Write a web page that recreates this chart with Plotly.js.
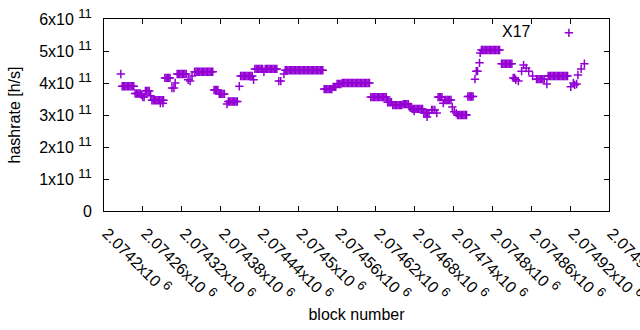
<!DOCTYPE html>
<html>
<head>
<meta charset="utf-8">
<script src="https://cdn.plot.ly/plotly-3.0.1.min.js"></script>
<style>html,body{margin:0;padding:0;background:#fff;}#chart{width:640px;height:330px;}</style>
</head>
<body>
<div id="chart"></div>
<script>
// block numbers (x) and hashrate in h/s (y)
const blocks = [
  2074226,
  2074228,2074230,2074232,2074234,2074236,2074238,2074240,2074242,2074244,2074246,
  2074248,2074250,2074252,2074254,2074256,
  2074258,2074260,2074262,
  2074264,2074266,2074268,2074270,2074272,
  2074274,2074276,2074278,2074280,2074282,2074284,2074286,2074288,2074290,2074292,2074287,2074291,
  2074294,2074296,2074298,2074300,2074302,
  2074305,2074308,2074310,
  2074313,2074315,2074317,2074319,2074321,2074323,2074325,2074327,
  2074330,2074333,2074336,
  2074340,2074342,2074344,2074346,2074348,2074350,2074352,2074354,2074356,2074358,2074360,2074362,2074364,2074366,2074368,
  2074370,2074372,2074374,2074376,
  2074378,2074380,2074382,2074384,2074386,
  2074390,2074392,2074394,2074396,2074398,2074400,2074402,2074404,2074406,
  2074409,
  2074411,2074413,2074415,2074417,2074419,2074421,2074423,2074425,2074427,2074429,2074431,
  2074433,2074435,2074437,2074439,2074441,2074443,2074445,2074447,2074449,2074451,2074453,2074455,2074457,2074459,2074461,2074463,2074465,2074467,
  2074470,2074473,2074478,
  2074480,2074482,2074484,2074486,2074488,2074490,2074492,2074494,2074496,2074498,2074500,2074502,2074504,2074506,2074508,
  2074510,2074512,2074514,2074516,2074518,2074520,2074522,2074524,2074526,2074528,2074530,2074532,2074534,2074536,2074538,
  2074540,2074542,2074544,2074546,2074548,2074550,2074552,
  2074554,2074556,2074558,
  2074560,2074562,2074564,2074566,
  2074568,2074570,2074572,2074574,2074576,2074578,2074580,2074582,2074584,2074586,2074588,
  2074590,2074592,2074594,2074596,2074598,2074600,2074602,2074604,2074606,2074608,2074610,
  2074612,2074614,2074616,2074618,2074620,2074622,2074624,2074626,2074628,2074630,2074632,2074634,2074636,
  2074638,2074640,2074642,2074644,
  2074646,2074648,2074650,2074652,2074654,2074656,2074658,2074660,
  2074662,2074664,2074666,2074668,2074670,
  2074672,2074674,
  2074676,2074678,2074680,2074682,2074684,2074686,2074688,2074690,2074692,2074679,
  2074694,2074696,2074698,2074700,2074702,2074699,
  2074706,2074708,2074711,2074714,
  2074716,2074718,2074720,2074722,
  2074724,2074726,2074728,2074730,2074732,2074734,2074736,
  2074738,2074741,2074744,
  2074746,2074748,2074750,2074752,2074754,2074756,2074758,2074760,
  2074762,2074764,2074766,2074768,2074770,
  2074773,2074775,2074777,
  2074780,2074781,
  2074783,2074785,2074787,2074789,2074791,2074793,2074795,2074797,2074799,2074801,2074803,2074805,2074807,2074809,2074811,
  2074814,2074816,2074818,2074820,2074822,2074824,2074826,2074828,2074830,
  2074832,2074834,2074836,2074840,
  2074845,2074848,2074852,2074856,2074862,2074868,
  2074870,2074872,2074874,2074876,2074878,2074880,
  2074884,
  2074886,2074888,2074890,2074892,2074894,2074896,2074898,2074900,2074902,2074904,2074906,2074908,2074910,2074912,2074914,2074916,
  2074921,2074925,2074927,2074930,2074932,2074937,2074942
];
const hashrate = [
  4.28e11,
  3.9e11,3.9e11,3.9e11,3.9e11,3.9e11,3.9e11,3.9e11,3.9e11,3.9e11,3.9e11,
  3.67e11,3.67e11,3.67e11,3.67e11,3.67e11,
  3.62e11,3.56e11,3.56e11,
  3.75e11,3.75e11,3.75e11,3.75e11,3.6e11,
  3.46e11,3.46e11,3.46e11,3.46e11,3.46e11,3.46e11,3.46e11,3.46e11,3.46e11,3.46e11,3.37e11,3.37e11,
  4.16e11,4.16e11,4.16e11,4.16e11,4.16e11,
  3.84e11,3.84e11,4.0e11,
  4.28e11,4.28e11,4.28e11,4.28e11,4.28e11,4.28e11,4.28e11,4.28e11,
  4.1e11,4.06e11,4.22e11,
  4.35e11,4.35e11,4.35e11,4.35e11,4.35e11,4.35e11,4.35e11,4.35e11,4.35e11,4.35e11,4.35e11,4.35e11,4.35e11,4.35e11,4.35e11,
  3.78e11,3.78e11,3.78e11,3.78e11,
  3.66e11,3.66e11,3.66e11,3.66e11,3.66e11,
  3.34e11,3.42e11,3.42e11,3.42e11,3.42e11,3.42e11,3.42e11,3.42e11,3.42e11,
  3.9e11,
  4.22e11,4.22e11,4.22e11,4.22e11,4.22e11,4.22e11,4.22e11,4.22e11,4.22e11,4.22e11,4.1e11,
  4.44e11,4.44e11,4.44e11,4.44e11,4.44e11,4.44e11,4.44e11,4.35e11,4.44e11,4.44e11,4.44e11,4.44e11,4.44e11,4.44e11,4.44e11,4.44e11,4.44e11,4.44e11,
  4.06e11,4.06e11,4.28e11,
  4.4e11,4.4e11,4.4e11,4.4e11,4.4e11,4.4e11,4.4e11,4.4e11,4.4e11,4.4e11,4.4e11,4.4e11,4.4e11,4.4e11,4.4e11,
  4.4e11,4.4e11,4.4e11,4.4e11,4.4e11,4.4e11,4.4e11,4.4e11,4.4e11,4.4e11,4.4e11,4.4e11,4.4e11,4.4e11,4.4e11,
  3.81e11,3.81e11,3.81e11,3.81e11,3.81e11,3.81e11,3.81e11,
  3.88e11,3.88e11,3.88e11,
  3.97e11,3.97e11,3.97e11,3.97e11,
  4.0e11,4.0e11,4.0e11,4.0e11,4.0e11,4.0e11,4.0e11,4.0e11,4.0e11,4.0e11,4.0e11,
  4.0e11,4.0e11,4.0e11,4.0e11,4.0e11,4.0e11,4.0e11,4.0e11,4.0e11,4.0e11,4.0e11,
  3.56e11,3.56e11,3.56e11,3.56e11,3.56e11,3.56e11,3.56e11,3.56e11,3.56e11,3.56e11,3.56e11,3.56e11,3.56e11,
  3.4e11,3.4e11,3.4e11,3.4e11,
  3.31e11,3.31e11,3.31e11,3.31e11,3.31e11,3.31e11,3.31e11,3.31e11,
  3.34e11,3.34e11,3.34e11,3.34e11,3.34e11,
  3.25e11,3.25e11,
  3.19e11,3.19e11,3.19e11,3.19e11,3.19e11,3.19e11,3.19e11,3.19e11,3.19e11,3.12e11,
  3.06e11,3.06e11,3.06e11,3.06e11,3.06e11,2.94e11,
  3.16e11,3.16e11,3.16e11,3.06e11,
  3.56e11,3.56e11,3.56e11,3.56e11,
  3.37e11,3.47e11,3.47e11,3.47e11,3.47e11,3.47e11,3.47e11,
  3.25e11,3.1e11,3.06e11,
  3.0e11,3.0e11,3.0e11,3.0e11,3.0e11,3.0e11,3.0e11,3.0e11,
  3.58e11,3.58e11,3.58e11,3.58e11,3.58e11,
  4.12e11,4.37e11,4.37e11,
  4.63e11,4.94e11,
  5.03e11,5.03e11,5.03e11,5.03e11,5.03e11,5.03e11,5.03e11,5.03e11,5.03e11,5.03e11,5.03e11,5.03e11,5.03e11,5.03e11,5.03e11,
  4.6e11,4.6e11,4.6e11,4.6e11,4.6e11,4.6e11,4.6e11,4.6e11,4.6e11,
  4.16e11,4.16e11,4.1e11,4.06e11,
  4.37e11,4.56e11,4.47e11,4.37e11,4.22e11,4.12e11,
  4.12e11,4.12e11,4.12e11,4.12e11,4.12e11,4.12e11,
  3.97e11,
  4.22e11,4.22e11,4.22e11,4.22e11,4.22e11,4.22e11,4.22e11,4.22e11,4.22e11,4.22e11,4.22e11,4.22e11,4.22e11,4.22e11,4.22e11,4.22e11,
  3.88e11,4.0e11,3.94e11,3.97e11,4.25e11,4.44e11,4.6e11
];
const seriesName = 'X17';
const xTickVals = [2074200,2074260,2074320,2074380,2074440,2074500,2074560,2074620,2074680,2074740,2074800,2074860,2074920,2074980];
const xTickMant = ['2.0742','2.07426','2.07432','2.07438','2.07444','2.0745','2.07456','2.07462','2.07468','2.07474','2.0748','2.07486','2.07492','2.07498'];
const yTickVals = [0,1e11,2e11,3e11,4e11,5e11,6e11];
const yTickMant = ['0','1','2','3','4','5','6'];

const sup = function (m, e) { return m + 'x10 <sup><span style="font-size:13px">' + e + '</span></sup>'; };
const xTickText = xTickMant.map(function (m) { return sup(m, '6'); });
const yTickText = yTickMant.map(function (m) { return m === '0' ? '0' : sup(m, '11'); });

const purple = '#9400d3';
const trace = {
  type: 'scatter', mode: 'markers', x: blocks, y: hashrate, name: ' ',
  showlegend: true,
  marker: {symbol: 'cross-thin', size: 6, color: purple, line: {color: purple, width: 1.5}},
  hoverinfo: 'x+y'
};
const font = {family: 'Liberation Sans, Arial, sans-serif', color: '#000'};
const layout = {
  width: 640, height: 330,
  margin: {l: 104, r: 31, t: 19, b: 119, pad: 0},
  paper_bgcolor: '#fff', plot_bgcolor: '#fff',
  font: Object.assign({size: 16}, font),
  showlegend: true,
  legend: {x: 0.881, y: 1.016, xanchor: 'left', yanchor: 'top', bgcolor: 'rgba(0,0,0,0)', font: {size: 16}},
  xaxis: {
    range: [2074200, 2074980], tickmode: 'array', tickvals: xTickVals, ticktext: xTickText,
    tickangle: 45, ticks: 'inside', ticklen: 5, tickcolor: '#000', mirror: 'ticks',
    showline: true, linecolor: '#000', linewidth: 1, showgrid: false, zeroline: false,
    tickfont: {size: 16}, automargin: false, ticklabelstandoff: 6, ticklabelshift: 3,
    ticklabeloverflow: 'allow',
    title: {text: 'block number', font: {size: 16}, standoff: 5}
  },
  yaxis: {
    range: [0, 6e11], tickmode: 'array', tickvals: yTickVals, ticktext: yTickText,
    ticks: 'inside', ticklen: 5, tickcolor: '#000', mirror: 'ticks',
    showline: true, linecolor: '#000', linewidth: 1, showgrid: false, zeroline: false,
    tickfont: {size: 16}, automargin: false, ticklabelstandoff: 8,
    title: {text: 'hashrate [h/s]', font: {size: 16}, standoff: 14}
  },
  annotations: [{
    xref: 'paper', yref: 'paper', x: (533 - 104) / 505, y: (211 - 31) / 192,
    xanchor: 'right', yanchor: 'middle', text: seriesName, showarrow: false, font: {size: 16}
  }]
};
Plotly.newPlot('chart', [trace], layout, {staticPlot: true, displayModeBar: false});
</script>
</body>
</html>
